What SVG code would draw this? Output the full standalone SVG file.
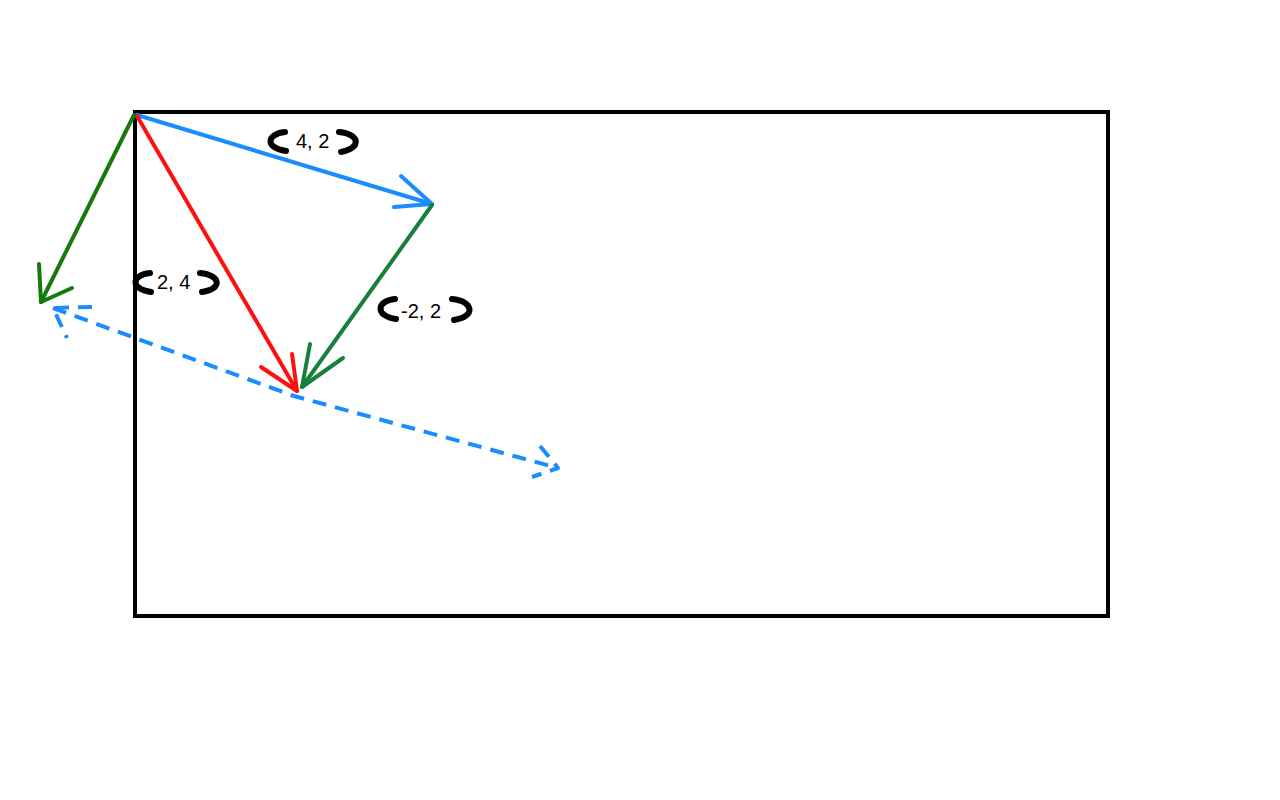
<svg xmlns="http://www.w3.org/2000/svg" width="1280" height="800" viewBox="0 0 1280 800">
<style>
.ln{fill:none;stroke-width:4;stroke-linecap:round;stroke-linejoin:round}
.blue{stroke:#1a8cff}
.red{stroke:#ff1010}
.g1{stroke:#137a0c}
.g2{stroke:#17803d}
.dash{stroke-dasharray:14 9;stroke-linecap:butt}
.br{fill:none;stroke:#000;stroke-width:6;stroke-linecap:round}
.lbl{font-family:"Liberation Sans",Arial,sans-serif;font-size:20px;fill:#000}
</style>
<rect width="1280" height="800" fill="#fff"/>
<g id="frame">
<rect x="135" y="112" width="973" height="504" fill="none" stroke="#000" stroke-width="4"/>
</g>
<g id="connectors">
<g id="vec-4-2">
<path class="ln blue" d="M137 115 L432 204"/>
<path class="ln blue" d="M401 176 L432 204 L394 207"/>
</g>
<g id="vec-2-4">
<path class="ln red" d="M137 116 L297 391"/>
<path class="ln red" d="M261 367 L297 391 L292 354"/>
</g>
<g id="vec-m2-2">
<path class="ln g2" d="M432 205 L302 387"/>
<path class="ln g2" d="M310 344 L302 387 L343 358"/>
</g>
<g id="vec-left">
<path class="ln g1" d="M134 115 L41 302"/>
<path class="ln g1" d="M39 264 L41 302 L72 288"/>
</g>
<g id="dashed">
<path class="ln blue dash" d="M53 308 L294 396 L558 468"/>
<path class="ln blue dash" d="M92 307 L53 308 L67 338"/>
<path class="ln blue dash" d="M540 446 L558 468 L532 477"/>
</g>
</g>
<g id="label-4-2">
<path class="br" d="M285 132 C266 134 265 148 286 151"/>
<text class="lbl" x="296" y="148">4, 2</text>
<path class="br" d="M339 132 C360 134 362 148 341 152"/>
</g>
<g id="label-2-4">
<path class="br" d="M150 273 C131 275 130 289 151 292"/>
<text class="lbl" x="157" y="289">2, 4</text>
<path class="br" d="M200 273 C221 275 223 289 202 292"/>
</g>
<g id="label-m2-2">
<path class="br" d="M395 299 C376 301 375 316 396 319"/>
<text class="lbl" x="401" y="318">-2, 2</text>
<path class="br" d="M452 299 C474 301 476 317 454 320"/>
</g>
</svg>
